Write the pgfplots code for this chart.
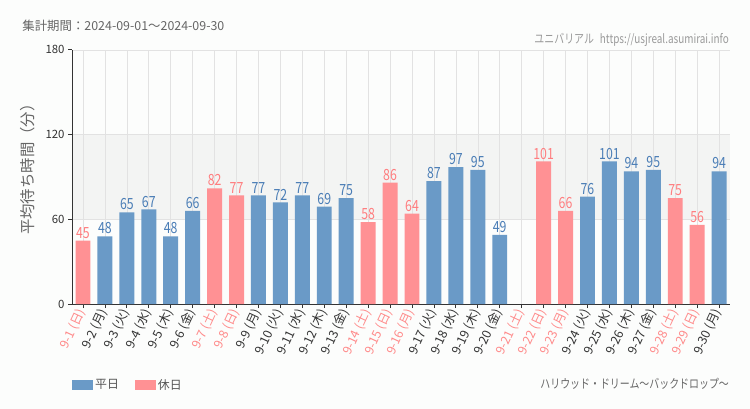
\documentclass[border=0pt]{standalone}
\usepackage{pgfplots}
\pgfplotsset{compat=1.18}
\usepackage{fontspec}
\setmainfont{Noto Sans CJK JP}
\newfontfamily\condfont[FakeStretch=0.8]{Noto Sans CJK JP}
\definecolor{wd}{HTML}{6A9AC7}
\definecolor{hd}{HTML}{FF9194}
\definecolor{wdl}{HTML}{4A7DB6}
\definecolor{hdl}{HTML}{FF7D7F}
\definecolor{hdt}{HTML}{FF8A8A}
\definecolor{tk}{HTML}{333333}
\definecolor{gridc}{HTML}{E2E2E2}
\definecolor{bandc}{HTML}{F3F4F3}
\definecolor{bgc}{HTML}{FCFDFC}
\definecolor{labc}{HTML}{666666}
\definecolor{legc}{HTML}{555555}
\definecolor{srcc}{HTML}{999999}
\newcommand{\hl}[1]{\textcolor{hdt}{#1}}
\newcommand{\wl}[1]{\textcolor{tk}{#1}}
\begin{document}
\pagecolor{bgc}
\begin{tikzpicture}
\path (0,0) rectangle (750bp,410bp);
\node[anchor=west, text=labc, font=\fontsize{12.5}{12.5}\selectfont, inner sep=0] at (20bp,384bp) {集計期間：2024-09-01～2024-09-30};
\node[anchor=east, text=srcc, font=\condfont\fontsize{12.5}{12.5}\selectfont, inner sep=0] at (729bp,370bp) {ユニバリアル\hspace{6bp}https://usjreal.asumirai.info};
\node[anchor=east, text=labc, font=\condfont\fontsize{12.5}{12.5}\selectfont, inner sep=0] at (729bp,25bp) {ハリウッド・ドリーム～バックドロップ～};
\begin{axis}[
  at={(70bp,105bp)}, anchor=south west,
  scale only axis, width=660bp, height=255bp,
  xmin=0.5, xmax=30.5, ymin=0, ymax=180,
  ybar, bar width=15bp, bar shift=0pt,
  xtick={1,...,30},
  xticklabels={{\hl{9-1 (日)}},{\wl{9-2 (月)}},{\wl{9-3 (火)}},{\wl{9-4 (水)}},{\wl{9-5 (木)}},{\wl{9-6 (金)}},{\hl{9-7 (土)}},{\hl{9-8 (日)}},{\wl{9-9 (月)}},{\wl{9-10 (火)}},{\wl{9-11 (水)}},{\wl{9-12 (木)}},{\wl{9-13 (金)}},{\hl{9-14 (土)}},{\hl{9-15 (日)}},{\hl{9-16 (月)}},{\wl{9-17 (火)}},{\wl{9-18 (水)}},{\wl{9-19 (木)}},{\wl{9-20 (金)}},{\hl{9-21 (土)}},{\hl{9-22 (日)}},{\hl{9-23 (月)}},{\wl{9-24 (火)}},{\wl{9-25 (水)}},{\wl{9-26 (木)}},{\wl{9-27 (金)}},{\hl{9-28 (土)}},{\hl{9-29 (日)}},{\wl{9-30 (月)}}},
  ytick={0,60,120,180},
  axis x line*=bottom, axis y line*=left, axis line style={tk,-},
  tick align=outside, major tick length=4bp, tick style={tk, line width=0.8pt},
  xmajorgrids, ymajorgrids, grid style={gridc, line width=0.6pt},
  set layers,
  x tick label style={rotate=65, anchor=east, font=\fontsize{12.5}{12.5}\selectfont, inner sep=2bp},
  y tick label style={font=\fontsize{11.5}{11.5}\selectfont, text=tk},
  /pgf/number format/assume math mode=true,
  ylabel={平均待ち時間（分）},
  ylabel style={at={(axis description cs:-0.068,0.545)}, anchor=center, rotate=0, font=\fontsize{15.5}{15.5}\selectfont, text=labc},
  nodes near coords,
  every node near coord/.append style={font=\condfont\fontsize{15.5}{15.5}\selectfont, inner sep=2bp},
  legend style={at={(axis description cs:0,-0.3176)}, anchor=west, draw=none, fill=none, text=legc, font=\fontsize{12}{12}\selectfont, inner sep=0pt, /tikz/every even column/.append style={column sep=14bp}},
  legend columns=2,
  clip=false,
]
\pgfplotsextra{%
\begin{pgfonlayer}{axis background}
\fill[bandc] (axis cs:0.5,60) rectangle (axis cs:30.5,120);
\end{pgfonlayer}}
\addplot[fill=wd, draw=none, every node near coord/.append style={text=wdl}, legend image code/.code={\fill[wd] (0bp,-5bp) rectangle (21bp,5bp);}] coordinates {
(2,48)(3,65)(4,67)(5,48)(6,66)(9,77)(10,72)(11,77)(12,69)(13,75)(17,87)(18,97)(19,95)(20,49)(24,76)(25,101)(26,94)(27,95)(30,94)};
\addlegendentry{平日}
\addplot[fill=hd, draw=none, every node near coord/.append style={text=hdl}, legend image code/.code={\fill[hd] (0bp,-5bp) rectangle (21bp,5bp);}] coordinates {
(1,45)(7,82)(8,77)(14,58)(15,86)(16,64)(22,101)(23,66)(28,75)(29,56)};
\addlegendentry{休日}
\end{axis}
\end{tikzpicture}
\end{document}
